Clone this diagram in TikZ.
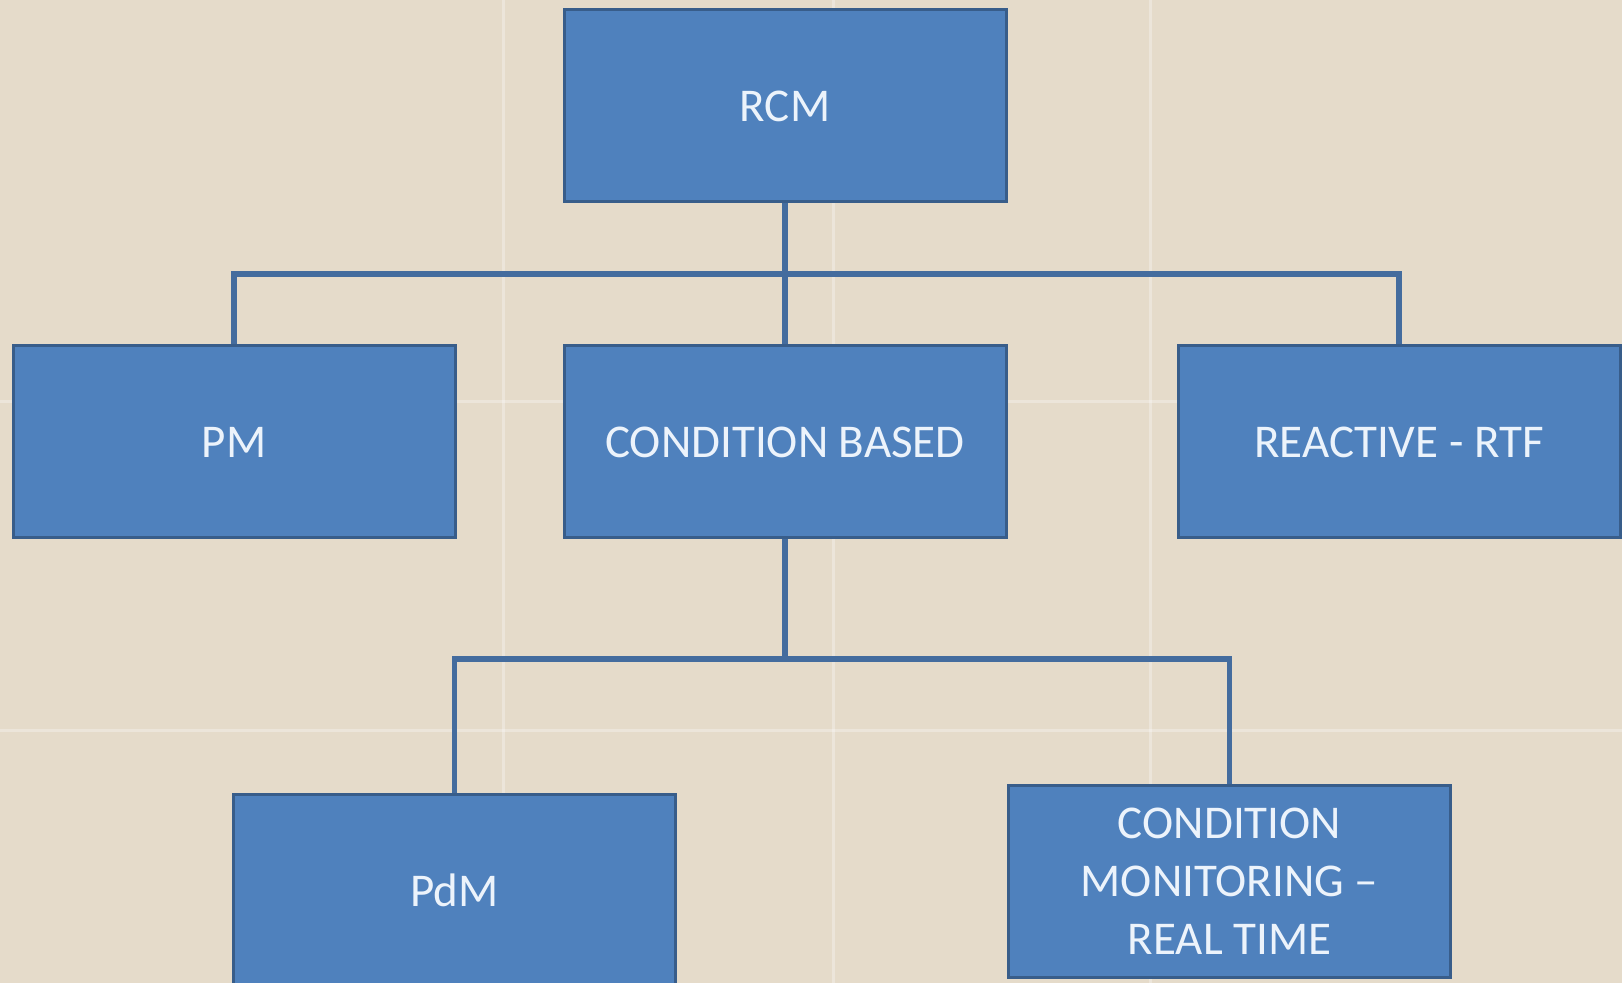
\documentclass[tikz,border=0pt]{standalone}
\usepackage{fontspec}
\setmainfont{Carlito}
\usetikzlibrary{positioning}

\definecolor{paper}{RGB}{229,219,202}
\definecolor{boxfill}{RGB}{79,129,189}
\definecolor{boxline}{RGB}{56,93,138}
\definecolor{linkline}{RGB}{68,108,158}
\definecolor{boxtext}{RGB}{236,243,251}

\tikzset{
  box/.style={draw=boxline, fill=boxfill, line width=1.5pt, minimum width=221pt,
    minimum height=96pt, inner sep=2pt, align=center, text=boxtext,
    font=\fontsize{23.5}{29}\selectfont},
  link/.style={draw=linkline, line width=2.6pt},
  grain/.style={draw=white, opacity=0.3, line width=1.5pt}
}

\begin{document}
\begin{tikzpicture}[x=0.5pt,y=-0.5pt]
            % background
            \fill [paper] (0,0) rectangle (1622,983);
            \clip (0,0) rectangle (1622,983);
            \draw [grain] (503,0) -- (503,983);
            \draw [grain] (833,0) -- (833,983);
            \draw [grain] (1150,0) -- (1150,983);
            \draw [grain] (0,402) -- (1622,402);
            \draw [grain] (0,730) -- (1622,730);
            % boxes
            \node [box] (rcm) at (785,106) {RCM};
            \node [box] (pm) at (234,442) {PM};
            \node [box] (cb) at (785,442) {CONDITION BASED};
            \node [box] (rtf) at (1399,442) {REACTIVE - RTF};
            \node [box] (pdm) at (454.5,890) {PdM};
            \node [box] (cm) at (1229.5,881.5) {CONDITION\\MONITORING –\\REAL TIME};
            % buses
            \coordinate (topbus) at (785,274);
            \coordinate (lowbus) at (785,659);
            \draw [link] (rcm.south) -- (cb.north);
            \draw [link] (pm.north) |- (topbus) -| (rtf.north);
            \draw [link] (cb.south) -- (lowbus);
            \draw [link] (pdm.north) |- (lowbus) -| (cm.north);
        \end{tikzpicture}
\end{document}
